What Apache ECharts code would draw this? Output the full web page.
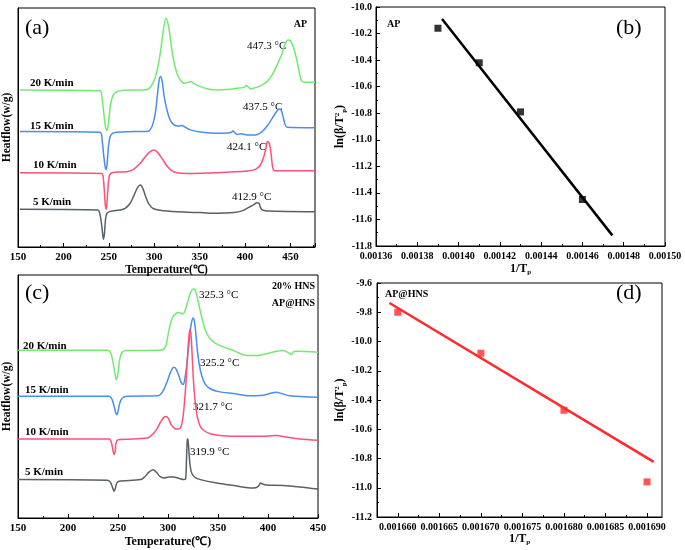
<!DOCTYPE html>
<html>
<head>
<meta charset="utf-8">
<script src="https://cdn.jsdelivr.net/npm/echarts@6.0.0/dist/echarts.min.js"></script>
<style>html,body{margin:0;padding:0;background:#fff}#c{width:685px;height:550px}</style>
</head>
<body>
<div id="c"></div>
<script>
// ---------- Panel (a): AP DSC curves [T (°C), relative heat flow] ----------
const a20 = [[152,65.7],[240.4,65.4],[242.3,62.9],[244.1,57.3],[246,51.0],[247.8,48.7],[249.6,51.7],[251.5,58.7],[254,62.9],[257,64.6],[262.5,65.4],[280,65.7],[292,65.8],[295.6,66.8],[299.3,69.2],[302.9,73.4],[306.6,81.0],[309.6,89.4],[312.9,95.7],[315.8,92.2],[318.4,85.2],[321.3,78.2],[325,72.7],[328.7,69.9],[333.1,68.5],[337.9,68.9],[340.4,69.2],[343.4,68.5],[348.9,67.4],[358.1,66.2],[369.1,65.7],[380.1,65.9],[391.2,66.4],[398.5,66.8],[401.5,67.6],[404,66.8],[406.6,66.1],[409.6,66.5],[416.9,67.4],[424.3,69.2],[429.8,72.0],[435.3,76.2],[440.8,81.0],[444.8,85.5],[447.3,86.6],[450.2,86.2],[453.7,83.1],[456.6,78.9],[459.2,74.1],[461.8,69.9],[464.7,68.9],[477,68.9]];
const a15 = [[152,48.3],[240.4,48.0],[242.6,44.8],[244.5,37.8],[246.3,32.9],[247.1,32.5],[248.2,35.0],[249.6,42.0],[251.5,46.2],[254.4,47.6],[258.8,48.0],[280,48.3],[291.9,48.3],[297.4,50.3],[301.1,55.9],[303.7,64.3],[305.5,69.9],[307,71.3],[308.8,69.2],[311,62.9],[314,57.3],[317.6,53.1],[322.1,51.0],[326.8,50.6],[330.5,50.8],[334.2,50.1],[339.7,49.0],[350.7,48.1],[369.1,47.6],[383.8,47.8],[386.8,48.5],[389.3,47.6],[391.9,47.1],[394.9,47.4],[402.2,46.9],[411.4,46.9],[418.8,48.3],[424.3,50.6],[429.8,53.8],[434.6,56.6],[437.5,57.7],[439.7,57.3],[441.9,54.5],[443.8,51.5],[446.3,50.1],[477,49.9]];
const a10 = [[152,31.1],[242.3,30.8],[244.1,28.0],[245.2,22.5],[246.3,16.9],[247.1,15.8],[247.8,17.6],[248.9,23.8],[250.4,29.4],[253.3,31.1],[269.9,31.5],[277.2,32.5],[284.6,35.0],[290.1,37.8],[295.6,39.9],[299.3,40.6],[302.9,39.9],[308.5,37.1],[314,33.9],[319.5,31.9],[325,31.1],[336,30.8],[369.1,31.1],[402.2,31.8],[411.4,32.5],[416.9,34.3],[420.6,37.8],[423,41.3],[424.6,44.1],[426.6,43.4],[428.6,39.2],[430.3,33.6],[432.4,31.9],[477,31.9]];
const a5 = [[152,15.8],[237.9,15.5],[240.4,13.4],[242.3,8.5],[244.1,3.2],[245.2,5.7],[246.3,11.3],[247.8,14.1],[251.5,14.9],[262.5,15.5],[268,16.2],[273.5,18.3],[277.9,21.8],[281.6,24.8],[284.6,25.9],[287.5,24.5],[290.8,20.8],[294.5,17.7],[299.3,16.0],[310.3,15.2],[332.4,14.6],[350.7,14.4],[369.1,14.1],[387.5,14.4],[396.7,15.1],[404,16.6],[409.6,17.7],[413,18.5],[415.4,18.3],[416.9,16.6],[418.8,15.5],[424.3,15.1],[477,14.8]];

// ---------- Panel (b): AP Kissinger plot ----------
const bX = [0.00139, 0.00141, 0.00143, 0.00146];
const bY = [-10.16, -10.42, -10.79, -11.45];
const bFitX = [0.001392, 0.0014745];
const bFitY = [-10.09, -11.72];

// ---------- Panel (c): AP@HNS DSC curves ----------
const c20 = [[150,69.0],[239.5,69.0],[242.8,67.9],[245.1,63.8],[247.1,59.0],[248.4,56.9],[249.8,59.0],[251.4,64.5],[253.7,67.9],[257.7,68.9],[292.5,69.0],[295.8,69.5],[298.2,71.3],[300.1,75.4],[302.5,80.2],[305.1,83.0],[307.4,83.9],[310.1,84.6],[312.4,84.4],[314.7,83.9],[316.7,85.0],[319,87.8],[321.7,91.9],[325.3,94.2],[327,94.0],[329,91.2],[331.3,87.1],[333.9,82.3],[337.2,77.5],[341.6,74.1],[347.2,72.0],[355.5,70.4],[365.4,69.0],[378.7,66.9],[388.6,66.9],[398.6,67.6],[408.5,68.6],[415.2,68.9],[421.1,67.9],[423.4,67.2],[425.1,68.3],[428.4,68.6],[450,68.2]];
const c15 = [[150,50.1],[241.1,50.1],[243.8,49.0],[246.1,46.0],[247.8,43.2],[248.8,42.5],[250.1,43.9],[251.8,47.3],[254.4,49.4],[259.4,50.1],[289.2,50.3],[292.5,50.8],[295.8,52.8],[299.2,56.2],[302.5,59.9],[305.8,62.0],[308.1,61.3],[310.8,58.6],[313.1,55.8],[315.1,54.9],[316.7,56.9],[318.4,61.7],[320,67.9],[321.7,74.8],[323.4,80.2],[325.2,82.3],[326.4,80.9],[327.8,76.1],[329.3,69.3],[331.3,63.1],[333.9,58.3],[337.2,55.1],[342.2,53.2],[350.5,52.0],[365.4,51.2],[382,50.3],[395.3,50.5],[403.6,51.4],[408.5,51.7],[413.5,51.2],[421.8,50.3],[450,49.7]];
const c10 = [[150,32.5],[241.1,32.5],[243.5,30.9],[244.8,28.1],[246.1,26.1],[247.1,27.4],[248.1,30.9],[250.1,32.2],[279.3,32.9],[284.2,34.3],[288.5,36.4],[292.5,39.4],[295.8,41.4],[298.2,41.8],[300.5,40.9],[303.2,38.4],[306.4,36.9],[310.1,36.6],[313.1,37.7],[315.1,41.8],[316.7,48.7],[318.4,58.3],[319.7,67.9],[320.9,74.8],[322,77.8],[323.1,74.8],[324.2,66.5],[325.6,55.6],[327.3,47.3],[329.6,41.2],[332.3,37.7],[336.3,35.9],[342.2,34.7],[352.2,34.0],[372.1,33.6],[398.6,33.6],[408.5,34.0],[418.5,33.3],[431.7,32.5],[450,32.0]];
const c5 = [[150,15.8],[239.5,15.5],[242.8,14.4],[244.8,12.3],[246.1,11.0],[247.4,12.3],[248.8,14.4],[251.1,15.1],[272.6,15.8],[276.6,16.9],[280.9,18.9],[285.2,19.9],[288.5,18.8],[291.9,17.1],[295.8,16.5],[300.8,16.9],[305.8,16.9],[310.8,16.3],[315.7,15.8],[317.6,16.0],[318.6,25.4],[319.3,32.2],[319.9,32.5],[320.8,28.1],[322.2,21.3],[324,18.2],[327.3,16.6],[332.3,15.8],[348.9,14.4],[365.4,13.4],[385.3,12.3],[390.3,13.0],[392.6,14.4],[394.6,14.0],[398.6,13.6],[415.2,13.4],[431.7,12.8],[450,11.9]];

// ---------- Panel (d): AP@HNS Kissinger plot ----------
const dX = [0.00166, 0.00167, 0.00168, 0.00169];
const dY = [-9.80, -10.08, -10.47, -10.96];
const dFitX = [0.001659, 0.0016908];
const dFitY = [-9.737, -10.823];
const dTicks = [0.00166, 0.001665, 0.00167, 0.001675, 0.00168, 0.001685, 0.00169];
const dMinorTicks = [0.0016625, 0.0016675, 0.0016725, 0.0016775, 0.0016825, 0.0016875];

const SERIF = 'Liberation Serif';
const C_GREEN = '#72ea72', C_BLUE = '#4a8fe8', C_RED = '#ff5078', C_GRAY = '#596068';

function valAxis(grid, o) {
  return Object.assign({
    type: 'value', gridIndex: grid,
    axisLine: { show: true, onZero: false, lineStyle: { color: '#000', width: 1 } },
    axisTick: { show: true, inside: true, length: 4, lineStyle: { color: '#000' } },
    minorTick: { show: true, splitNumber: 2, length: 2, lineStyle: { color: '#000' } },
    splitLine: { show: false },
    axisLabel: { color: '#000', fontFamily: SERIF, fontWeight: 'bold', fontSize: 10, margin: 5 },
    nameLocation: 'middle',
    nameTextStyle: { color: '#000', fontFamily: SERIF, fontWeight: 'bold', fontSize: 12 }
  }, o);
}
function blankY(grid) {
  return {
    type: 'value', gridIndex: grid, min: 0, max: 100,
    axisLine: { show: true, lineStyle: { color: '#000' } },
    axisTick: { show: false }, axisLabel: { show: false }, splitLine: { show: false },
    name: 'Heatflow(w/g)', nameLocation: 'middle', nameGap: 5,
    nameTextStyle: { color: '#000', fontFamily: SERIF, fontWeight: 'bold', fontSize: 11.5 }
  };
}
function curve(data, color, idx) {
  return { type: 'line', data: data, xAxisIndex: idx, yAxisIndex: idx, showSymbol: false, smooth: 0.3,
    lineStyle: { color: color, width: 1.5 }, itemStyle: { color: color }, silent: true };
}
const pair = (xs, ys) => xs.map((x, i) => [x, ys[i]]);
const subRich = {
  a: { fontFamily: SERIF, fontWeight: 'bold', fontSize: 12, lineHeight: 14, color: '#000' },
  s: { fontFamily: SERIF, fontWeight: 'bold', fontSize: 7, lineHeight: 7, verticalAlign: 'top', color: '#000' },
  p: { fontFamily: SERIF, fontWeight: 'bold', fontSize: 7, lineHeight: 7, verticalAlign: 'bottom', color: '#000' }
};

function txt(x, y, s, o) {
  return { type: 'text', x: x, y: y, style: Object.assign({ text: s, fontFamily: SERIF, fontSize: 11, fill: '#000', verticalAlign: 'middle', textAlign: 'left' }, o) };
}

const option = {
  animation: false,
  backgroundColor: '#fff',
  grid: [
    { left: 18, top: 8, width: 297, height: 239, show: true, borderColor: '#000', borderWidth: 1 },
    { left: 376, top: 7, width: 289, height: 239, show: true, borderColor: '#000', borderWidth: 1 },
    { left: 17, top: 275, width: 301, height: 243, show: true, borderColor: '#000', borderWidth: 1 },
    { left: 377, top: 283, width: 285, height: 234, show: true, borderColor: '#000', borderWidth: 1 }
  ],
  xAxis: [
    valAxis(0, { min: 150, max: 477, interval: 50, name: 'Temperature(℃)', nameGap: 15,
      axisLabel: { color: '#000', fontFamily: SERIF, fontWeight: 'bold', fontSize: 11, margin: 5, showMaxLabel: false },
      nameTextStyle: { color: '#000', fontFamily: SERIF, fontWeight: 'bold', fontSize: 11.5 } }),
    valAxis(1, { min: 0.00136, max: 0.0015, interval: 0.00002, name: '{a|1/T}{p|p}', nameGap: 16,
      axisLabel: { color: '#000', fontFamily: SERIF, fontWeight: 'bold', fontSize: 10, margin: 5, formatter: v => v.toFixed(5) },
      nameTextStyle: { rich: subRich } }),
    valAxis(2, { min: 150, max: 450, interval: 50, name: 'Temperature(℃)', nameGap: 18,
      axisLabel: { color: '#000', fontFamily: SERIF, fontWeight: 'bold', fontSize: 11, margin: 5 },
      nameTextStyle: { color: '#000', fontFamily: SERIF, fontWeight: 'bold', fontSize: 12 } }),
    valAxis(3, { min: 0.0016575, max: 0.0016918, name: '{a|1/T}{p|p}', nameGap: 13,
      minorTick: { show: false },
      axisTick: { show: true, inside: true, length: 4, lineStyle: { color: '#000' }, customValues: dTicks },
      axisLabel: { color: '#000', fontFamily: SERIF, fontWeight: 'bold', fontSize: 10, margin: 5, customValues: dTicks, formatter: v => v.toFixed(6) },
      nameTextStyle: { rich: subRich } }),
    { type: 'value', gridIndex: 3, position: 'bottom', min: 0.0016575, max: 0.0016918,
      axisLine: { show: false }, splitLine: { show: false }, axisLabel: { show: false },
      axisTick: { show: true, inside: true, length: 2, lineStyle: { color: '#000' }, customValues: dMinorTicks } }
  ],
  yAxis: [
    blankY(0),
    valAxis(1, { min: -11.8, max: -10.0, interval: 0.2, name: '{a|ln(β/T}{s|2}{p|p}{a|)}', nameGap: 27,
      axisLabel: { color: '#000', fontFamily: SERIF, fontWeight: 'bold', fontSize: 10, margin: 4, formatter: v => v.toFixed(1) },
      nameTextStyle: { rich: subRich } }),
    blankY(2),
    valAxis(3, { min: -11.2, max: -9.6, interval: 0.2, name: '{a|ln(β/T}{s|2}{p|p}{a|)}', nameGap: 28,
      axisLabel: { color: '#000', fontFamily: SERIF, fontWeight: 'bold', fontSize: 10, margin: 5, formatter: v => v.toFixed(1) },
      nameTextStyle: { rich: subRich } })
  ],
  series: [
    curve(a20, C_GREEN, 0), curve(a15, C_BLUE, 0), curve(a10, C_RED, 0), curve(a5, C_GRAY, 0),
    curve(c20, C_GREEN, 2), curve(c15, C_BLUE, 2), curve(c10, C_RED, 2), curve(c5, C_GRAY, 2),
    { type: 'line', data: pair(bFitX, bFitY), xAxisIndex: 1, yAxisIndex: 1, showSymbol: false,
      lineStyle: { color: '#000', width: 2.5 }, silent: true },
    { type: 'scatter', data: pair(bX, bY), xAxisIndex: 1, yAxisIndex: 1, symbol: 'rect', symbolSize: 7,
      itemStyle: { color: '#000' }, silent: true },
    { type: 'line', data: pair(dFitX, dFitY), xAxisIndex: 3, yAxisIndex: 3, showSymbol: false,
      lineStyle: { color: '#ff2a2a', width: 2.5 }, silent: true },
    { type: 'scatter', data: pair(dX, dY), xAxisIndex: 3, yAxisIndex: 3, symbol: 'rect', symbolSize: 7,
      itemStyle: { color: '#ff2a2a' }, silent: true }
  ],
  graphic: [
    txt(25, 28, '(a)', { fontSize: 22 }),
    txt(307, 24, 'AP', { fontSize: 10, fontWeight: 'bold', textAlign: 'right' }),
    txt(30, 83, '20 K/min', { fontWeight: 'bold' }),
    txt(30, 126, '15 K/min', { fontWeight: 'bold' }),
    txt(33, 165, '10 K/min', { fontWeight: 'bold' }),
    txt(33, 202, '5 K/min', { fontWeight: 'bold' }),
    txt(247, 46, '447.3 °C'),
    txt(243, 107, '437.5 °C'),
    txt(227, 147, '424.1 °C'),
    txt(232, 197, '412.9 °C'),

    txt(387, 24, 'AP', { fontSize: 10, fontWeight: 'bold' }),
    txt(616, 28, '(b)', { fontSize: 22 }),

    txt(25, 293, '(c)', { fontSize: 22 }),
    txt(315, 286, '20% HNS', { fontSize: 10, fontWeight: 'bold', textAlign: 'right' }),
    txt(315, 303, 'AP@HNS', { fontSize: 10, fontWeight: 'bold', textAlign: 'right' }),
    txt(23, 346, '20 K/min', { fontWeight: 'bold' }),
    txt(25, 390, '15 K/min', { fontWeight: 'bold' }),
    txt(25, 432, '10 K/min', { fontWeight: 'bold' }),
    txt(25, 472, '5 K/min', { fontWeight: 'bold' }),
    txt(199, 295, '325.3 °C'),
    txt(200, 363, '325.2 °C'),
    txt(193, 407, '321.7 °C'),
    txt(190, 452, '319.9 °C'),

    txt(385, 294, 'AP@HNS', { fontSize: 10, fontWeight: 'bold' }),
    txt(616, 293, '(d)', { fontSize: 22 })
  ]
};
echarts.init(document.getElementById('c'), null, { renderer: 'canvas' }).setOption(option);
</script>
</body>
</html>
